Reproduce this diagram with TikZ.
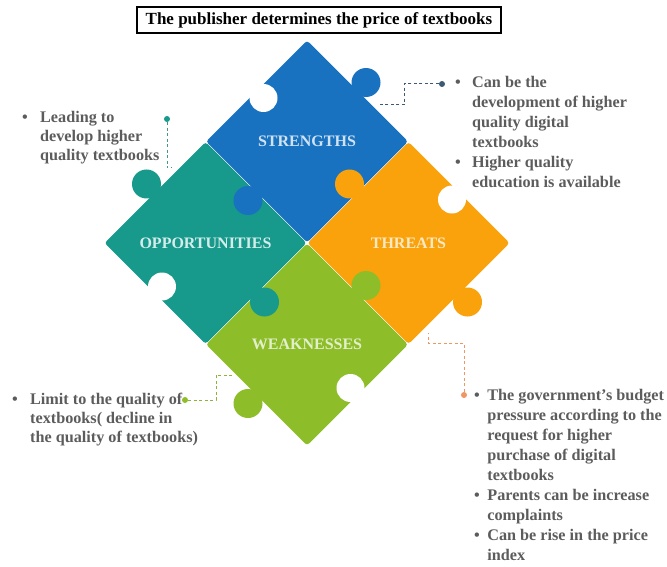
\documentclass[tikz,border=0pt]{standalone}
\usepackage{fontspec}
\setmainfont{Liberation Serif}
\usetikzlibrary{shapes.geometric, calc}
\definecolor{sblue}{RGB}{24,114,192}
\definecolor{oteal}{RGB}{23,153,140}
\definecolor{torange}{RGB}{249,162,12}
\definecolor{wgreen}{RGB}{141,190,42}
\definecolor{txtgray}{RGB}{92,92,92}
\definecolor{slateline}{RGB}{60,90,115}
\definecolor{tealline}{RGB}{70,150,140}
\definecolor{greenline}{RGB}{140,180,60}
\definecolor{orangeline}{RGB}{238,150,100}

\newcommand{\bulletlist}[2]{\begin{tabular}[t]{@{}l@{\hspace{#1}}l@{}}#2\end{tabular}}

\begin{document}
\begin{tikzpicture}[x=1pt, y=1pt,
		piece/.style = {diamond, minimum width=202pt, minimum height=202pt, inner sep=0, outer sep=0, rounded corners=3pt, font=\bfseries\fontsize{16}{18}\selectfont} ,
		knob/.style = {circle, minimum size=29pt, inner sep=0} ,
		hole/.style = {circle, minimum size=28pt, inner sep=0, fill=white} ,
		pin/.style = {circle, minimum size=6pt, inner sep=0} ,
		conn/.style = {line width=1pt, dash pattern=on 3pt off 2.5pt} ,
		txt/.style = {anchor=base west, inner sep=0, text=txtgray, font=\bfseries\fontsize{16.2}{20}\selectfont}
		]
		\useasboundingbox (0,0) rectangle (667,-567);

		% title
		\node (H) [draw, line width=1.6pt, minimum width=364pt, minimum height=26pt, font=\bfseries\fontsize{17}{20}\selectfont] at (319,-20) {The publisher determines the price of textbooks};

		% the four pieces
		\node (S) [piece, fill=sblue, text=white!80!sblue] at (307,-141.5) {STRENGTHS};
		\node (O) [piece, fill=oteal, text=white!82!oteal] at (205.5,-243) {OPPORTUNITIES};
		\node (T) [piece, fill=torange, text=white!75!torange] at (408.5,-243) {THREATS};
		\node (W) [piece, fill=wgreen, text=white!75!wgreen] at (307,-344.5) {WEAKNESSES};

		% blanks
		\node (s0) [hole] at ($(S.north)!.5!(S.west)+(7,-7)$) {};
		\node (o0) [hole] at ($(O.west)!.5!(O.south)+(7,7)$) {};
		\node (t0) [hole] at ($(T.north)!.5!(T.east)+(-7,-7)$) {};
		\node (w0) [hole] at ($(W.east)!.5!(W.south)+(-7,7)$) {};

		% tabs
		\node (s1) [knob, fill=sblue] at ($(S.north)!.5!(S.east)+(8.5,8.5)$) {};
		\node (s2) [knob, fill=sblue] at ($(S.west)!.5!(S.south)+(-8.5,-8.5)$) {};
		\node (o1) [knob, fill=oteal] at ($(O.north)!.5!(O.west)+(-8.5,8.5)$) {};
		\node (o2) [knob, fill=oteal] at ($(O.east)!.5!(O.south)+(8.5,-8.5)$) {};
		\node (t1) [knob, fill=torange] at ($(T.north)!.5!(T.west)+(-8.5,8.5)$) {};
		\node (t2) [knob, fill=torange] at ($(T.east)!.5!(T.south)+(8.5,-8.5)$) {};
		\node (w1) [knob, fill=wgreen] at ($(W.north)!.5!(W.east)+(8.5,8.5)$) {};
		\node (w2) [knob, fill=wgreen] at ($(W.west)!.5!(W.south)+(-8.5,-8.5)$) {};

		% notes
		\node (OT) [txt, font=\bfseries\fontsize{16.2}{19}\selectfont] at (22,-123) {\bulletlist{12.3pt}{\textbullet & Leading to\\ & develop higher\\ & quality textbooks}};
		\node (ST) [txt] at (455,-88) {\bulletlist{11.3pt}{\textbullet & Can be the\\ & development of higher\\ & quality digital\\ & textbooks\\ \textbullet & Higher quality\\ & education is available}};
		\node (WT) [txt, font=\bfseries\fontsize{16.2}{19}\selectfont] at (12,-404) {\bulletlist{12.3pt}{\textbullet & Limit to the quality of\\ & textbooks( decline in\\ & the quality of textbooks)}};
		\node (TT) [txt] at (474,-400) {\bulletlist{7.5pt}{\textbullet & The government's budget\\ & pressure according to the\\ & request for higher\\ & purchase of digital\\ & textbooks\\ \textbullet & Parents can be increase\\ & complaints\\ \textbullet & Can be rise in the price\\ & index}};

		% leaders
		\node (od) [pin, fill=oteal] at (167,-119) {};
		\node (sd) [pin, fill=slateline] at (442,-84) {};
		\node (wd) [pin, fill=wgreen] at (185,-400) {};
		\node (td) [pin, fill=orangeline] at (464,-395) {};
		\coordinate (oe) at (172,-168);
		\coordinate (sb) at (404,-105);
		\coordinate (se) at (378,-105);
		\coordinate (wb) at (216,-375);
		\coordinate (we) at (232,-375);
		\coordinate (tb) at (428,-343);
		\coordinate (te) at (428,-333);

		\draw[conn, tealline] (od) |- (oe);
		\draw[conn, slateline] (sd) -| (sb) -- (se);
		\draw[conn, greenline] (wd) -| (wb) -- (we);
		\draw[conn, orangeline] (td) |- (tb) -- (te);
	\end{tikzpicture}
\end{document}
